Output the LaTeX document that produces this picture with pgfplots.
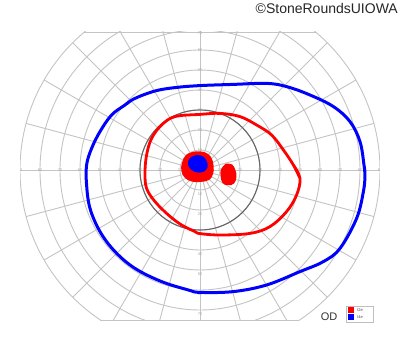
\documentclass[border=0pt]{standalone}
\usepackage{fontspec}
\setmainfont{Liberation Sans}
\usepackage{pgfplots}
\pgfplotsset{compat=1.18}
\definecolor{gridc}{HTML}{C4C4C4}
\definecolor{labc}{HTML}{A8A8A8}
\begin{document}
\begin{tikzpicture}
\path[use as bounding box, fill=white] (0,0) rectangle (400pt,-352pt);
\begin{axis}[at={(20pt,-31.2pt)}, anchor=north west, scale only axis,
  width=360pt, height=289.6pt, xmin=-90, xmax=90, ymin=-75.4, ymax=69.4,
  hide axis, clip=true]
% grid rings
\pgfplotsinvokeforeach{10,20,30,40,50,60,70,80,90}{
  \draw[gridc, line width=0.9pt] (axis cs:0,0) circle[radius=#1];
}
% meridians
\pgfplotsinvokeforeach{0,15,30,45,60,75,90,105,120,135,150,165,180,195,210,225,240,255,270,285,300,315,330,345}{
  \draw[gridc, line width=0.9pt] (axis cs:0,0) -- (axis cs:{90*cos(#1)},{90*sin(#1)});
}
\draw[gridc, line width=0.9pt] (axis cs:-57.78,69) -- (axis cs:57.78,69);
\draw[gridc, line width=0.9pt] (axis cs:-49.75,-75) -- (axis cs:49.75,-75);
% 30 degree reference circle
\draw[black!60, line width=1.1pt] (axis cs:0,0) circle[radius=30];
% scale labels
\pgfplotsinvokeforeach{10,20,30,40,50,60,70,80,90}{
  \node[font=\fontsize{4}{4}\selectfont, text=labc, inner sep=0pt] at (axis cs:#1,0) {#1};
  \node[font=\fontsize{4}{4}\selectfont, text=labc, inner sep=0pt] at (axis cs:-#1,0) {#1};
}
\pgfplotsinvokeforeach{10,20,30,40,50,60}{
  \node[font=\fontsize{4}{4}\selectfont, text=labc, inner sep=0pt] at (axis cs:0,#1) {#1};
}
\node[font=\fontsize{4}{4}\selectfont, text=labc, inner sep=0pt] at (axis cs:0,68.3) {70};
\pgfplotsinvokeforeach{10,20,30,40,50,60,70}{
  \node[font=\fontsize{4}{4}\selectfont, text=labc, inner sep=0pt] at (axis cs:0,-#1-2) {#1};
}
% central scotoma I2e (red fill)
\addplot[draw=none, fill=red, smooth, tension=0.7] coordinates {
 (-3,9.2) (2,9) (5.5,6.5) (6.8,2) (6.5,-2) (4.5,-5) (0,-6) (-4,-5.8)
 (-7.5,-4) (-9.3,-0.5) (-9,3.5) (-7,7.5) (-3,9.2)};
% blind spot I2e
\addplot[draw=none, fill=red, smooth, tension=0.7] coordinates {
 (13,3.2) (16,2.8) (17.7,0) (18.2,-3.5) (17,-6.8) (14,-7.6) (11.3,-6.5)
 (10.3,-3) (10.6,0.5) (13,3.2)};
% central I4e (blue fill)
\addplot[draw=none, fill=blue, smooth, tension=0.7] coordinates {
 (-1.5,7.5) (2,6.5) (3.8,3) (3,0) (0,-1.3) (-3.5,-0.5) (-6,2.5) (-5,6) (-1.5,7.5)};
% I2e isopter
\addplot[red, line width=2.8pt, smooth, tension=0.6, line cap=round, line join=round] coordinates {
 (50,-4.2) (46.7,2.5) (41.7,10) (35.8,17.5) (28.3,22.5) (20,26.7) (10,28.3)
 (0,27.8) (-12.5,26.7) (-19.2,22.5) (-24.2,15.8) (-26.7,7.5) (-27.5,-1.5)
 (-26.7,-9.2) (-22.5,-15.8) (-15.8,-22.5) (-9.2,-27.5) (-2.5,-30.8) (0,-31.8)
 (10,-32.5) (25,-31.7) (35,-28.3) (43.3,-20.8) (48.3,-12.5) (50,-4.2) (46.7,2.5)};
% I4e isopter
\addplot[blue, line width=3pt, smooth, tension=0.6, line cap=round, line join=round] coordinates {
 (82.5,-2.5) (82,2.5) (80,14.2) (75,24.2) (66.7,31.7) (55,37.5) (43.3,41.7)
 (33.3,43.3) (16.7,42.8) (0,42.2) (-12.5,41.2) (-22.5,39.5) (-32.5,35.8)
 (-37.5,32.5) (-44.2,27.5) (-50,19.2) (-54.2,10.8) (-56.7,2.5) (-56.7,-7.5)
 (-55,-19.2) (-50,-30.8) (-42.5,-40.8) (-32.5,-49.2) (-19.2,-55.8) (-5.8,-60)
 (0,-61.2) (16.7,-60.8) (33.3,-57.5) (50,-50.8) (61.7,-45.8) (70,-39.2)
 (78.3,-24.2) (81.7,-10.8) (82.5,-2.5) (82,2.5)};
\end{axis}
% eye label and legend
\node[font=\fontsize{11}{11}\selectfont, text=black!80, inner sep=0pt] at (329pt,-316.7pt) {OD};
\draw[gray!50, fill=white, line width=0.6pt] (346pt,-306pt) rectangle (373pt,-322pt);
\fill[red] (348pt,-307.5pt) rectangle (354pt,-313pt);
\fill[blue] (348pt,-314.5pt) rectangle (354pt,-320pt);
\node[font=\fontsize{4}{4}\selectfont, text=black!70, anchor=west, inner sep=0pt] at (357pt,-310.3pt) {I2e};
\node[font=\fontsize{4}{4}\selectfont, text=black!70, anchor=west, inner sep=0pt] at (357pt,-317.3pt) {I4e};
% copyright
\node[font=\fontsize{14}{14}\selectfont, text=black!85, anchor=east, inner sep=0pt] at (398pt,-9pt) {©StoneRoundsUIOWA};
\end{tikzpicture}
\end{document}
